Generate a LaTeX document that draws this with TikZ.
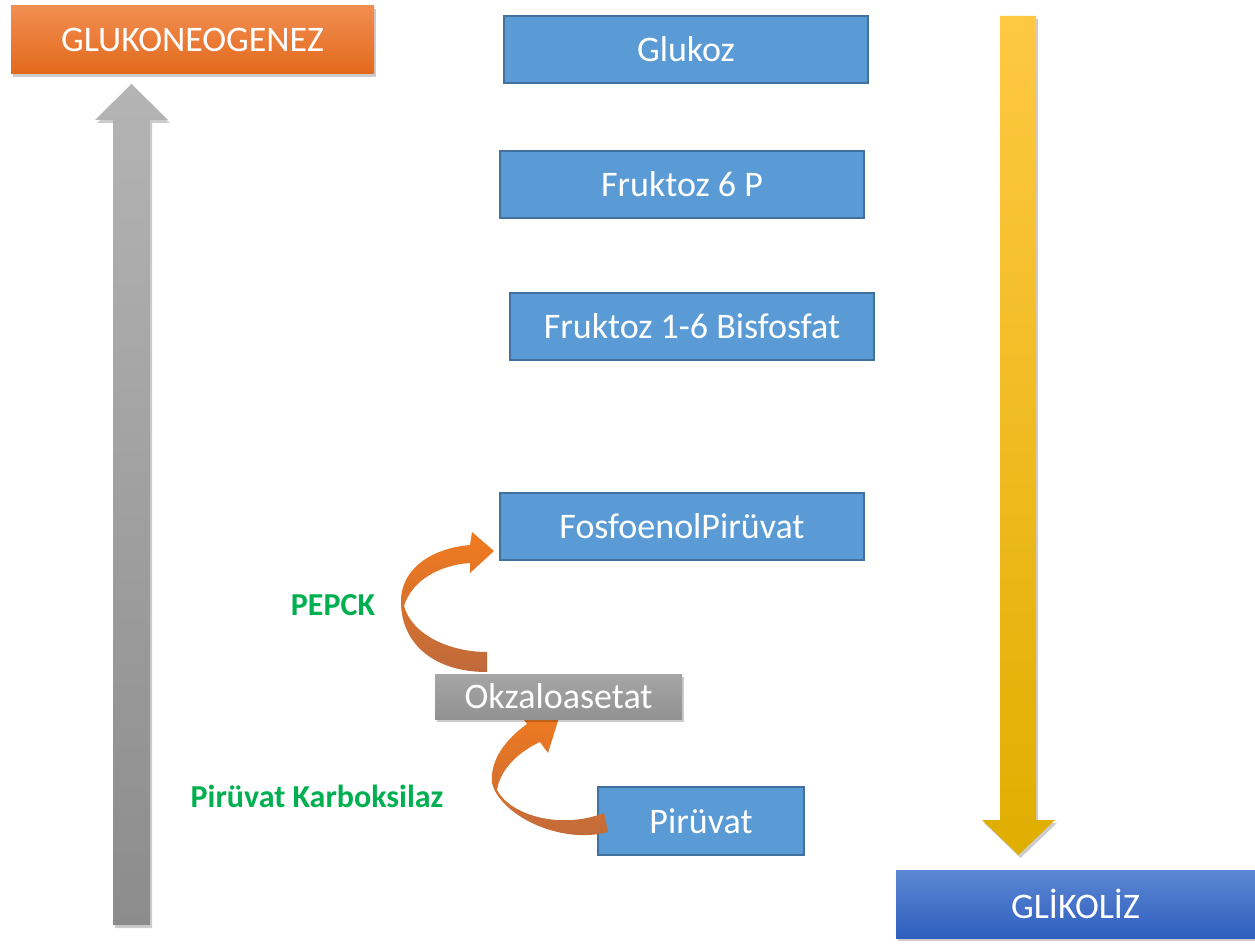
\documentclass[tikz,border=0pt]{standalone}
\usepackage{fontspec}
\setmainfont{Carlito}
\usetikzlibrary{shadows}
\definecolor{boxblue}{HTML}{5B9BD5}
\definecolor{boxline}{HTML}{41719C}
\definecolor{enzgreen}{HTML}{00B050}
\definecolor{orA}{HTML}{F28E52}
\definecolor{orB}{HTML}{E2691B}
\definecolor{blA}{HTML}{5C87D3}
\definecolor{blB}{HTML}{2F5FBF}
\definecolor{grA}{HTML}{B4B4B4}
\definecolor{grB}{HTML}{8C8C8C}
\definecolor{yeA}{HTML}{FFC843}
\definecolor{yeM}{HTML}{FFC000}
\definecolor{yeB}{HTML}{E0AE00}
\definecolor{curveA}{HTML}{F27A1E}
\definecolor{curveB}{HTML}{BF6A3C}
\tikzset{
  softshadow/.style={drop shadow={shadow xshift=2pt,shadow yshift=-3pt,opacity=0.2,fill=black}},
  stagebox/.style={draw=boxline,line width=1.4pt,fill=boxblue,text=white,
    font=\fontsize{36}{40}\selectfont,inner sep=0pt},
  titlebox/.style={text=white,font=\fontsize{36}{40}\selectfont,inner sep=0pt,softshadow},
  enzyme/.style={text=enzgreen,font=\bfseries\fontsize{32}{36}\selectfont,inner sep=0pt},
}
\begin{document}
\begin{tikzpicture}[x=1pt,y=-1pt]
\useasboundingbox (0,0) rectangle (1255,944);

% upward gluconeogenesis arrow
\shade[top color=grA,bottom color=grB,softshadow]
  (113,925) -- (113,120) -- (95,120) -- (131.5,84) -- (168,120) -- (150,120) -- (150,925) -- cycle;

% downward glycolysis arrow
\shade[top color=yeA,middle color=yeM,bottom color=yeB,softshadow]
  (1000,16) -- (1000,820) -- (982,820) -- (1018.5,855) -- (1055,820) -- (1036,820) -- (1036,16) -- cycle;

% pathway titles
\node[titlebox,top color=orA,bottom color=orB,minimum width=363pt,minimum height=68pt]
  (gng) at (192.5,40) {GLUKONEOGENEZ};
\node[titlebox,top color=blA,bottom color=blB,minimum width=359pt,minimum height=68pt]
  (gly) at (1075.5,904) {GLİKOLİZ};

% metabolites
\node[stagebox,minimum width=364pt,minimum height=67pt] (glukoz) at (686,49.5) {Glukoz};
\node[stagebox,minimum width=364pt,minimum height=67pt] (f6p) at (682,184.5) {Fruktoz 6 P};
\node[stagebox,minimum width=364pt,minimum height=67pt] (f16bp) at (692,326.5) {Fruktoz 1-6 Bisfosfat};
\node[stagebox,minimum width=364pt,minimum height=67pt] (pep) at (682,526.5) {FosfoenolPirüvat};
\node[stagebox,minimum width=206pt,minimum height=68pt] (pyr) at (701,821) {Pirüvat};

% pyruvate -> oxaloacetate ribbon arrow
\shade[top color=curveA,bottom color=curveB]
  (604,813) .. controls (560,830) and (510,815) .. (497,790)
  .. controls (500,770) and (518,752) .. (540,742)
  -- (548,753) -- (562,708) -- (518,712) -- (527,724)
  .. controls (505,740) and (490,760) .. (492,783)
  .. controls (500,815) and (560,845) .. (608,832) -- cycle;

% oxaloacetate
\node[titlebox,top color=grA!92!black,bottom color=grB!95!white,minimum width=247pt,minimum height=45pt]
  (oaa) at (558.5,696.5) {Okzaloasetat};

% oxaloacetate -> PEP ribbon arrow
\shade[top color=curveA,bottom color=curveB]
  (487,672) .. controls (430,672) and (400,640) .. (401,600)
  .. controls (402,566) and (435,548) .. (470,545)
  -- (472,532) -- (494,551) -- (470,573) -- (470,563)
  .. controls (440,565) and (412,580) .. (404,606)
  .. controls (412,635) and (450,652) .. (487,652) -- cycle;

% enzymes
\node[enzyme] (pepck) at (333,605) {PEPCK};
\node[enzyme] (pc) at (317,796) {Pirüvat Karboksilaz};
\end{tikzpicture}
\end{document}
